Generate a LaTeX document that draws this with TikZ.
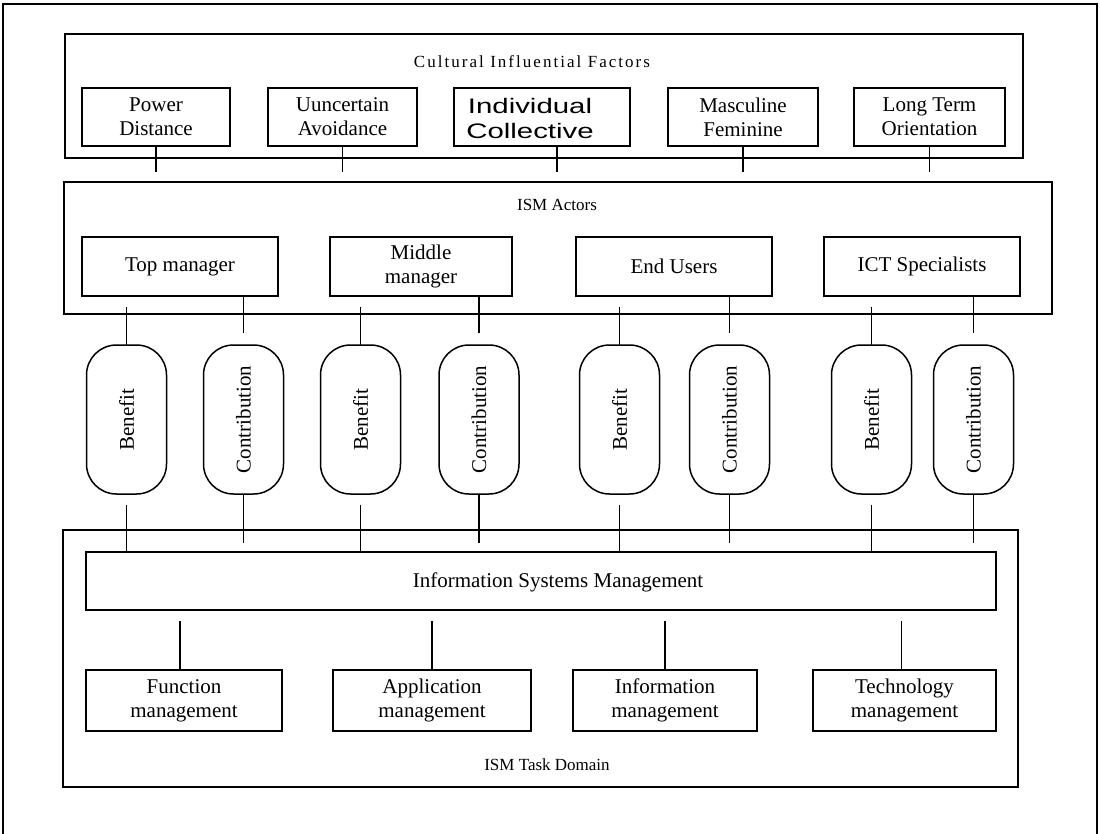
\documentclass[tikz,border=0pt]{standalone}
\usepackage{fontspec}
\usepackage{graphicx}
\setmainfont{Liberation Serif}
\newfontfamily\sansw[FakeStretch=1.4]{Liberation Sans}
\newfontfamily\titlewide[LetterSpace=12]{Liberation Serif}
\begin{document}
\begin{tikzpicture}[x=1pt,y=-1pt,
  box/.style={draw, line width=1.5pt, inner sep=0pt, outer sep=0pt, align=center, font=\fontsize{21}{24}\selectfont},
  container/.style={draw, line width=1.5pt, inner sep=0pt, outer sep=0pt},
  cloudbox/.style={draw, line width=1.5pt, rounded corners=30pt, minimum width=80pt, minimum height=149pt, inner sep=0pt, outer sep=0pt, font=\fontsize{21}{24}\selectfont},
  lbl/.style={inner sep=0pt, align=center, font=\fontsize{21}{24}\selectfont},
  title/.style={inner sep=0pt, font=\fontsize{17}{20}\selectfont},
  link/.style={line width=1.5pt}]
\useasboundingbox (0,0) rectangle (1100,834);
% outer frame
\draw[line width=1.5pt] (3,834) -- (3,4) -- (1097,4) -- (1097,834);

% Cultural influential factors
\node[container, minimum width=958pt, minimum height=124pt] (cult) at (544,96) {};
\node[title] (culttitle) at (532,62) {\titlewide Cultural Influential Factors};
\node[box, minimum width=148pt, minimum height=58pt] (pd) at (156,117) {Power\\Distance};
\node[box, minimum width=149pt, minimum height=58pt] (ua) at (342.5,117) {Uuncertain\\Avoidance};
\node[box, minimum width=176pt, minimum height=58pt] (ic) at (542,117) {};
\node[lbl, font=\fontsize{21}{25}\selectfont] (ictext) at (530,118) {\sansw Individual\\\sansw Collective};
\node[box, minimum width=150pt, minimum height=58pt] (mf) at (743,117) {Masculine\\Feminine};
\node[box, minimum width=151pt, minimum height=58pt] (lt) at (929.5,117) {Long Term\\Orientation};

% ISM actors
\node[container, minimum width=988pt, minimum height=132pt] (actors) at (558,248) {};
\node[title] (actorstitle) at (557,205) {ISM Actors};
\node[box, minimum width=196pt, minimum height=59pt] (tm) at (180,266.5) {Top manager};
\node[box, minimum width=182pt, minimum height=59pt] (mm) at (421,266.5) {\raisebox{2pt}{\begin{tabular}{@{}c@{}}Middle\\manager\end{tabular}}};
\node[box, minimum width=196pt, minimum height=59pt] (eu) at (674,266.5) {End Users};
\node[box, minimum width=196pt, minimum height=59pt] (ict) at (922,266.5) {ICT Specialists};

\foreach \d in {pd,ua,mf,lt}
  \draw[link, shorten >=10pt] (\d.south) -- (\d.south |- actors.north);
\draw[link, shorten >=10pt] ([xshift=15pt]ic.south) -- ([xshift=15pt]ic.south |- actors.north);

% benefit / contribution
\node[cloudbox] (b1) at (126.5,419.5) {\rotatebox{90}{Benefit}};
\node[cloudbox] (c1) at (243.5,419.5) {\rotatebox{90}{Contribution}};
\node[cloudbox] (b2) at (360.5,419.5) {\rotatebox{90}{Benefit}};
\node[cloudbox] (c2) at (479,419.5) {\rotatebox{90}{Contribution}};
\node[cloudbox] (b3) at (619.5,419.5) {\rotatebox{90}{Benefit}};
\node[cloudbox] (c3) at (729.5,419.5) {\rotatebox{90}{Contribution}};
\node[cloudbox] (b4) at (871.5,419.5) {\rotatebox{90}{Benefit}};
\node[cloudbox] (c4) at (973.5,419.5) {\rotatebox{90}{Contribution}};

% ISM task domain
\node[container, minimum width=955pt, minimum height=257pt] (domain) at (540.5,658.5) {};
\node[title] (domaintitle) at (547,765) {ISM Task Domain};
\node[box, minimum width=910pt, minimum height=58pt] (ism) at (541,581) {};
\node[lbl] (ismtext) at (558,582) {Information Systems Management};
\node[box, minimum width=196pt, minimum height=61pt] (fm) at (184,700.5) {Function\\management};
\node[box, minimum width=198pt, minimum height=61pt] (am) at (432,700.5) {Application\\management};
\node[box, minimum width=184pt, minimum height=61pt] (im) at (665,700.5) {Information\\management};
\node[box, minimum width=183pt, minimum height=61pt] (tech) at (904.5,700.5) {Technology\\management};

% actor -> benefit/contribution -> ISM
\foreach \a/\b/\c in {tm/b1/c1, mm/b2/c2, eu/b3/c3, ict/b4/c4} {
  \draw[link, shorten <=11pt] (\a.south -| \b.north) -- (\b.north);
  \draw[link, shorten >=12pt] (\a.south -| \c.north) -- (\c.north);
  \draw[link, shorten <=11pt] (\b.south) -- (\b.south |- ism.north);
  \draw[link, shorten >=9pt] (\c.south) -- (\c.south |- ism.north);
}

% ISM -> tasks
\foreach \t/\dx in {fm/-4, am/0, im/0, tech/-3}
  \draw[link, shorten <=11pt] ([xshift=\dx pt]\t.north |- ism.south) -- ([xshift=\dx pt]\t.north);
\end{tikzpicture}
\end{document}
